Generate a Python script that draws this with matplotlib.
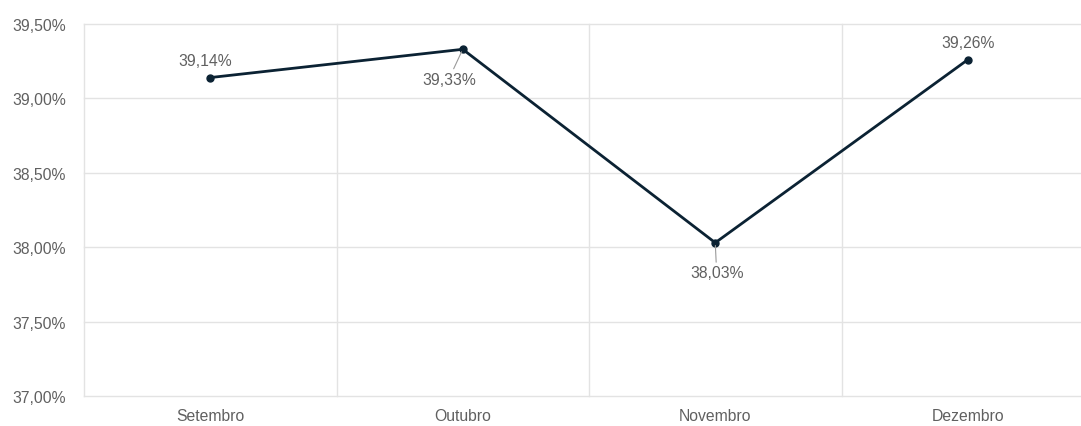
import matplotlib
matplotlib.use("Agg")
import matplotlib.pyplot as plt

categories = ["Setembro", "Outubro", "Novembro", "Dezembro"]
values = [39.14, 39.33, 38.03, 39.26]
label_pos = ["above", "below", "below", "above"]
yticks = [37.0, 37.5, 38.0, 38.5, 39.0, 39.5]

def fmt(v):
    return f"{v:.2f}".replace(".", ",") + "%"

plt.rcParams['font.family'] = ['Liberation Sans', 'DejaVu Sans']
W, H = 1081, 427
fig = plt.figure(figsize=(W / 100, H / 100), dpi=100)
left = 84 / W
right = 1094 / W
bottom = 1 - 397 / H
top = 1 - 25 / H
ax = fig.add_axes([left, bottom, right - left, top - bottom])

text_color = "#606060"
grid_color = "#e3e3e3"
line_color = "#0b2233"
fs = 11.3

x = list(range(len(categories)))
ax.set_xlim(-0.5, len(categories) - 0.5)
ax.set_ylim(37.0, 39.5)

# grid
for yv in yticks:
    ax.axhline(yv, color=grid_color, lw=1.0, zorder=0, clip_on=False)
for b in [i - 0.5 for i in range(len(categories) + 1)]:
    ax.axvline(b, color=grid_color, lw=1.0, zorder=0, clip_on=False)

ax.plot(x, values, color=line_color, lw=2.0, marker="o", markersize=5,
        zorder=3, solid_joinstyle="miter", clip_on=False)

for xi, v, pos in zip(x, values, label_pos):
    if pos == "above":
        ax.annotate(fmt(v), (xi, v), xytext=(-4 if xi == 0 else 0, 7),
                    textcoords="offset points", ha="center", va="bottom",
                    fontsize=fs, color=text_color)
    else:
        dx = -10 if xi == 1 else 1
        ax.annotate(fmt(v), (xi, v), xytext=(dx, -16),
                    textcoords="offset points", ha="center", va="top",
                    fontsize=fs, color=text_color,
                    arrowprops=dict(arrowstyle="-", color="#9a9a9a", lw=0.8,
                                    shrinkA=0, shrinkB=2))

for s in ax.spines.values():
    s.set_visible(False)

ax.set_xticks(x)
ax.set_xticklabels(categories)
ax.set_yticks(yticks)
ax.set_yticklabels([fmt(v) for v in yticks])
ax.tick_params(axis="both", length=0, labelsize=fs, colors=text_color)
ax.tick_params(axis="y", pad=13)
ax.tick_params(axis="x", pad=9)

fig.savefig("out.png", dpi=100)
